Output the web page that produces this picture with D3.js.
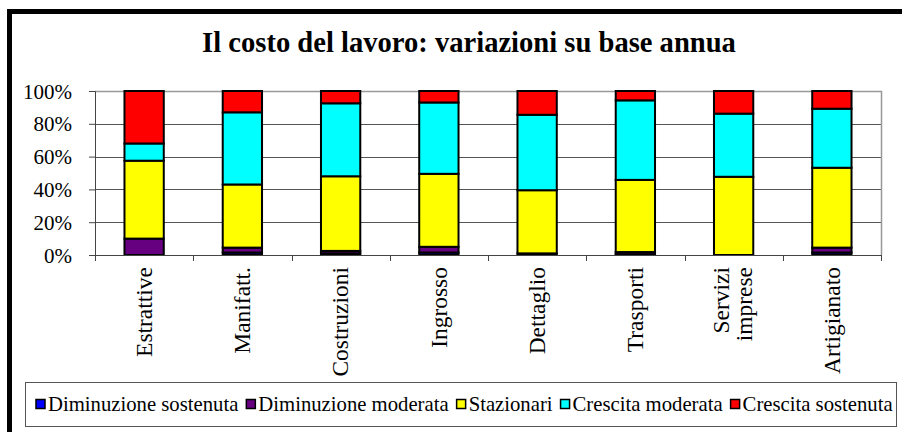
<!DOCTYPE html>
<html>
<head>
<meta charset="utf-8">
<script src="https://cdn.jsdelivr.net/npm/d3@7"></script>
<style>
  body { margin: 0; background: #fff; }
  svg { display: block; }
</style>
</head>
<body>
<div id="container"></div>
<script>
// dati (quote percentuali)
const categories = ["Estrattive", "Manifatt.", "Costruzioni", "Ingrosso", "Dettaglio", "Trasporti", "Servizi imprese", "Artigianato"];
const diminuzioneSostenuta = [0, 1.5, 1, 1.5, 0, 0.5, 0, 1.5];
const diminuzioneModerata  = [10, 3, 1.5, 3.5, 1, 1.3, 0, 3];
const stazionari           = [47.5, 38.5, 45.5, 44.5, 38.5, 44, 47.7, 48.7];
const crescitaModerata     = [10.5, 44, 44.5, 43.5, 46, 48.5, 38.5, 36];
const crescitaSostenuta    = [32, 13, 7.5, 7, 14.5, 5.7, 13.8, 10.8];

const seriesNames = ["Diminuzione sostenuta", "Diminuzione moderata", "Stazionari", "Crescita moderata", "Crescita sostenuta"];
const seriesValues = [diminuzioneSostenuta, diminuzioneModerata, stazionari, crescitaModerata, crescitaSostenuta];
const colors = ["#0000ff", "#660080", "#ffff00", "#00ffff", "#ff0000"];
const yTicks = [0, 0.2, 0.4, 0.6, 0.8, 1];

const title = "Il costo del lavoro: variazioni su base annua";
const FONT = '"Liberation Serif", "Times New Roman", serif';

const W = 902, H = 432;
const plot = {left: 95, right: 881, top: 91, bottom: 255};

const svg = d3.select("#container").append("svg")
  .attr("width", W)
  .attr("height", H)
  .attr("font-family", FONT);

// cornice esterna
svg.append("rect")
  .attr("x", 9.5).attr("y", 11.5)
  .attr("width", W + 20).attr("height", H + 20)
  .attr("fill", "#fff")
  .attr("stroke", "#000")
  .attr("stroke-width", 5);

// adatta la dimensione del font alla larghezza voluta
function fit(sel, target, base) {
  sel.style("font-size", base + "px");
  const w = sel.node().getComputedTextLength();
  sel.style("font-size", (base * target / w).toFixed(2) + "px");
}

// titolo
const t = svg.append("text")
  .attr("x", 469).attr("y", 52)
  .attr("text-anchor", "middle")
  .style("font-family", FONT)
  .style("font-weight", "bold")
  .text(title);
fit(t, 534, 22);

// tabella per lo stack
const table = categories.map((c, i) => {
  const row = {cat: c};
  seriesNames.forEach((s, j) => row[s] = seriesValues[j][i]);
  return row;
});

const stacked = d3.stack()
  .keys(seriesNames)
  .offset(d3.stackOffsetExpand)(table);

const x = d3.scaleBand()
  .domain(categories)
  .range([plot.left, plot.right])
  .paddingInner(0.6)
  .paddingOuter(0.3);

const xEdge = d3.scaleBand()
  .domain(categories)
  .range([plot.left, plot.right]);

const y = d3.scaleLinear()
  .domain([0, 1])
  .range([plot.bottom, plot.top]);

// griglia
svg.append("g")
  .selectAll("line")
  .data(yTicks.filter(d => d > 0 && d < 1))
  .enter().append("line")
  .attr("x1", plot.left).attr("x2", plot.right)
  .attr("y1", d => Math.round(y(d)) + 0.5)
  .attr("y2", d => Math.round(y(d)) + 0.5)
  .attr("stroke", "#555")
  .attr("stroke-width", 1);

// bordo superiore e destro dell'area
svg.append("path")
  .attr("d", `M${plot.left},${plot.top + 0.5}H${plot.right + 0.5}V${plot.bottom}`)
  .attr("fill", "none")
  .attr("stroke", "#999")
  .attr("stroke-width", 1.5);

// barre
svg.append("g")
  .selectAll("g")
  .data(stacked)
  .enter().append("g")
  .attr("fill", (d, i) => colors[i])
  .selectAll("rect")
  .data(d => d)
  .enter().append("rect")
  .attr("x", d => x(d.data.cat))
  .attr("width", x.bandwidth())
  .attr("y", d => y(d[1]))
  .attr("height", d => y(d[0]) - y(d[1]))
  .attr("stroke", "#000")
  .attr("stroke-width", 2);

// asse y
const yAxis = d3.axisLeft(y)
  .tickValues(yTicks)
  .tickFormat(d3.format(".0%"))
  .tickSize(6)
  .tickPadding(17);

const ya = svg.append("g")
  .attr("transform", `translate(${plot.left},0)`)
  .call(yAxis)
  .attr("font-family", FONT);
ya.select(".domain").attr("stroke", "#444");
ya.selectAll(".tick line").attr("stroke", "#444");
const yText = ya.selectAll(".tick text")
  .style("font-family", FONT)
  .attr("fill", "#000");
const y100 = yText.filter(d => d === 1);
y100.style("font-size", "18px");
const yFont = 18 * 49 / y100.node().getComputedTextLength();
yText.style("font-size", yFont.toFixed(2) + "px").attr("dy", "0.34em");

// asse x: linea e tacche tra le categorie
svg.append("line")
  .attr("x1", plot.left - 6).attr("x2", plot.right)
  .attr("y1", plot.bottom + 0.5).attr("y2", plot.bottom + 0.5)
  .attr("stroke", "#444");

svg.append("g")
  .selectAll("line")
  .data(categories.map(c => xEdge(c)).concat([plot.right]))
  .enter().append("line")
  .attr("x1", d => Math.round(d) + 0.5).attr("x2", d => Math.round(d) + 0.5)
  .attr("y1", plot.bottom).attr("y2", plot.bottom + 6)
  .attr("stroke", "#444");

// etichette ruotate
const xl = svg.append("g")
  .selectAll("text")
  .data(categories)
  .enter().append("text")
  .attr("transform", d => `translate(${x(d) + x.bandwidth() / 2},267) rotate(-90)`)
  .attr("text-anchor", "end")
  .style("font-family", FONT);

xl.each(function(d) {
  const words = d.split(" ");
  const el = d3.select(this);
  words.forEach((w, i) => {
    el.append("tspan")
      .attr("x", 0)
      .attr("dy", words.length === 1 ? "0.33em" : (i === 0 ? "-0.2em" : "1.0em"))
      .text(w);
  });
});
const est = xl.filter(d => d === "Estrattive");
est.style("font-size", "22px");
const xFont = 22 * 90 / est.node().getComputedTextLength();
xl.style("font-size", xFont.toFixed(2) + "px");

// legenda
const leg = {x: 25.5, y: 382.5, w: 871, h: 44};
svg.append("rect")
  .attr("x", leg.x).attr("y", leg.y)
  .attr("width", leg.w).attr("height", leg.h)
  .attr("fill", "#fff")
  .attr("stroke", "#555")
  .attr("stroke-width", 1);

const items = svg.append("g")
  .selectAll("g")
  .data(seriesNames)
  .enter().append("g");

items.append("rect")
  .attr("width", 9).attr("height", 9)
  .attr("fill", (d, i) => colors[i])
  .attr("stroke", "#000")
  .attr("stroke-width", 1.5);

const ltext = items.append("text")
  .attr("x", 12)
  .attr("y", 4.5)
  .attr("dy", "0.33em")
  .style("font-family", FONT)
  .text(d => d);

// dimensiona il font perché la riga vada da 36 a 893
const gap = 8, sw = 12;
ltext.style("font-size", "16px");
let total = 0;
ltext.each(function() { total += this.getComputedTextLength(); });
const target = 893 - 36 - seriesNames.length * sw - (seriesNames.length - 1) * gap;
const lFont = 16 * target / total;
ltext.style("font-size", lFont.toFixed(2) + "px");

let cx = 36;
items.each(function() {
  const g = d3.select(this);
  g.attr("transform", `translate(${cx},399.5)`);
  cx += sw + g.select("text").node().getComputedTextLength() + gap;
});
</script>
</body>
</html>
